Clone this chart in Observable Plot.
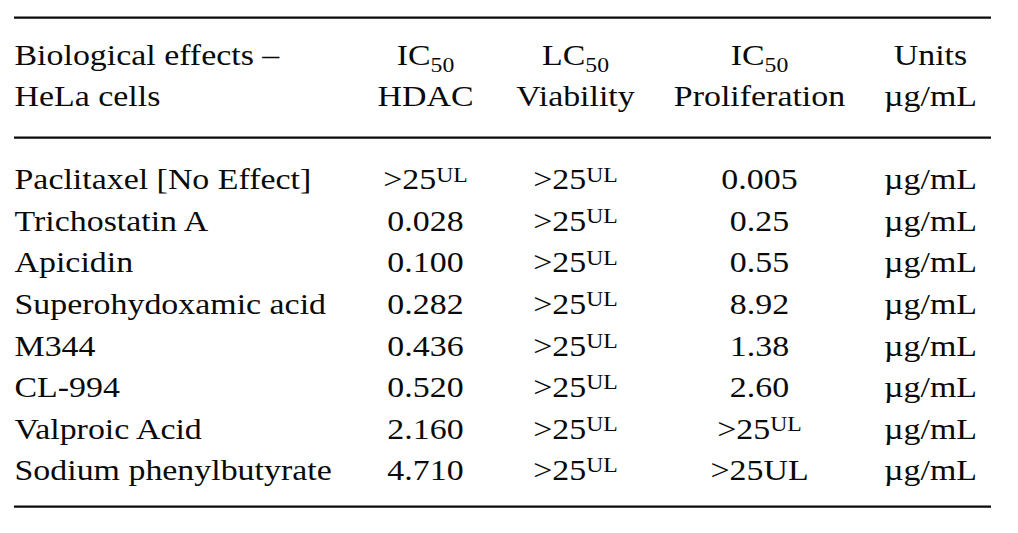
<!DOCTYPE html>
<html><head><meta charset="utf-8">
<script src="https://cdn.jsdelivr.net/npm/d3@7"></script>
<script src="https://cdn.jsdelivr.net/npm/@observablehq/plot@0.6"></script>
<style>body{margin:0;background:#fff}#chart svg{display:block}</style>
</head><body><div id="chart"></div>
<script>
// Table content (markup: _{..} subscript, ^{..} superscript)
const columns = ["label", "hdac", "viab", "prolif", "units"];
const headerLine1 = ["Biological effects –", "IC_{50}", "LC_{50}", "IC_{50}", "Units"];
const headerLine2 = ["HeLa cells", "HDAC", "Viability", "Proliferation", "µg/mL"];
const compounds = ["Paclitaxel [No Effect]", "Trichostatin A", "Apicidin", "Superohydoxamic acid", "M344", "CL-994", "Valproic Acid", "Sodium phenylbutyrate"];
const hdacIC50 = [">25^{UL}", "0.028", "0.100", "0.282", "0.436", "0.520", "2.160", "4.710"];
const viabilityLC50 = [">25^{UL}", ">25^{UL}", ">25^{UL}", ">25^{UL}", ">25^{UL}", ">25^{UL}", ">25^{UL}", ">25^{UL}"];
const proliferationIC50 = ["0.005", "0.25", "0.55", "8.92", "1.38", "2.60", ">25^{UL}", ">25UL"];
const unitsCol = ["µg/mL", "µg/mL", "µg/mL", "µg/mL", "µg/mL", "µg/mL", "µg/mL", "µg/mL"];

// build cells table (column index as x, row index as y)
const cells = [];
headerLine1.forEach((t, j) => cells.push({col: j, row: -3, text: t}));
headerLine2.forEach((t, j) => cells.push({col: j, row: -2, text: t}));
compounds.forEach((c, i) => {
  [c, hdacIC50[i], viabilityLC50[i], proliferationIC50[i], unitsCol[i]]
    .forEach((t, j) => cells.push({col: j, row: i, text: t}));
});
const ruleRows = [-4.14, -1.25, 7.64];

const font = {fontFamily: "Liberation Serif", fontSize: 30, fill: "#0a0a0a", lineAnchor: "bottom"};

const chart = Plot.plot({
  width: 1018,
  height: 533,
  marginLeft: 14,
  marginRight: 27,
  marginTop: 0,
  marginBottom: 0,
  x: {type: "linear", domain: [0, 1, 2, 3, 4], range: [14, 425, 575, 759, 930], axis: null},
  y: {domain: [-4.554, 8.289], range: [0, 533], axis: null},
  style: {background: "#fff"},
  marks: [
    Plot.ruleY(ruleRows, {y: d => d, stroke: "#0a0a0a", strokeWidth: 2.2}),
    Plot.text(cells.filter(d => d.col === 0), {x: "col", y: "row", text: "text", textAnchor: "start", ...font}),
    Plot.text(cells.filter(d => d.col !== 0), {x: "col", y: "row", text: "text", textAnchor: "middle", ...font})
  ]
});

// convert markup into tspans for sub/superscripts; widen glyphs like the reference typeface
d3.select(chart).selectAll("text").each(function() {
  const t = this.getAttribute("transform");
  if (t) this.setAttribute("transform", t + " scale(1.13,1)");
  const s = this.textContent;
  const m = s.match(/^(.*?)([_^])\{(.*?)\}(.*)$/);
  if (!m) return;
  const [, pre, kind, script, post] = m;
  const shift = kind === "_" ? 7 : -8;
  this.textContent = "";
  const el = d3.select(this);
  el.append("tspan").text(pre);
  el.append("tspan").attr("dy", shift).attr("font-size", 21).text(script);
  if (post) el.append("tspan").attr("dy", -shift).text(post);
});

document.getElementById("chart").append(chart);
</script>
</body></html>
